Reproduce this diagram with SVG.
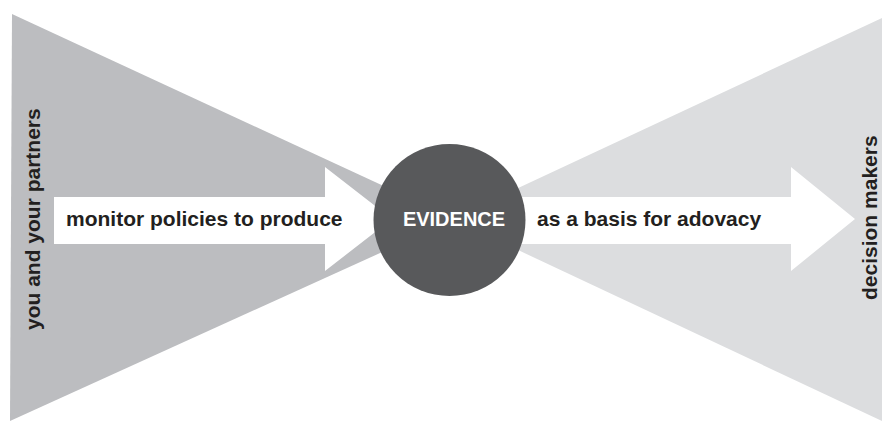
<svg xmlns="http://www.w3.org/2000/svg" width="882" height="421" viewBox="0 0 882 421">
  <style>
    .lbl { font-family: "Liberation Sans", Arial, sans-serif; font-weight: bold; font-size: 21px; fill: #231f20; }
    .arrow { fill: #ffffff; }
  </style>
  <rect width="882" height="421" fill="#ffffff"/>
  <g id="left-funnel">
    <polygon points="12,14 10,421 455,219" fill="#bcbdc0"/>
  </g>
  <g id="right-funnel">
    <polygon points="882,18 882,421 452,219" fill="#dcdddf"/>
  </g>
  <g id="connectors">
    <polygon class="arrow" points="54,197 325,197 325,167 392,219 325,271 325,244 54,244"/>
    <polygon class="arrow" points="520,197 791,197 791,167 855,219 791,271 791,244 520,244"/>
  </g>
  <g id="evidence">
    <circle cx="449.5" cy="220" r="76" fill="#58595b"/>
    <text x="454" y="226" text-anchor="middle" class="lbl" style="fill:#ffffff;font-size:20px">EVIDENCE</text>
  </g>
  <g id="label-monitor">
    <text x="66" y="226" class="lbl">monitor policies to produce</text>
  </g>
  <g id="label-basis">
    <text x="537" y="226" class="lbl">as a basis for adovacy</text>
  </g>
  <g id="you-and-partners">
    <text transform="translate(40,330) rotate(-90)" class="lbl">you and your partners</text>
  </g>
  <g id="decision-makers">
    <text transform="translate(877,300) rotate(-90)" class="lbl">decision makers</text>
  </g>
</svg>
